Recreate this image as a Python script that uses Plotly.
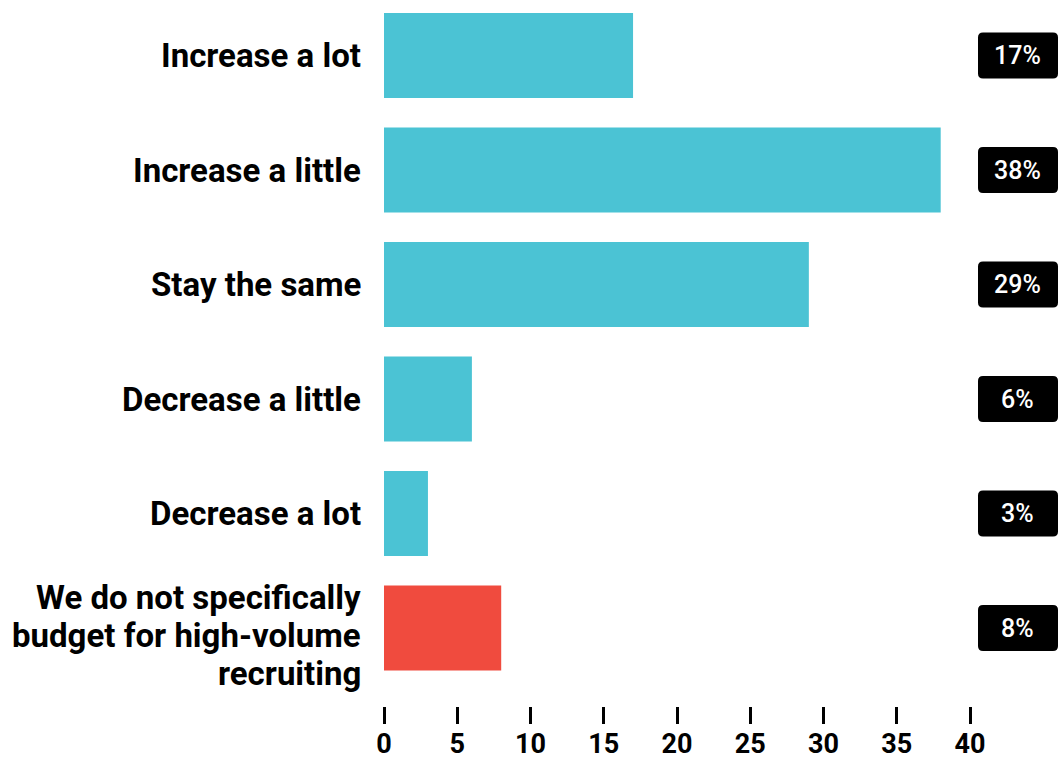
import plotly.graph_objects as go

# Survey answers, top to bottom
categories = [
    "Increase a lot",
    "Increase a little",
    "Stay the same",
    "Decrease a little",
    "Decrease a lot",
    "We do not specifically<br>budget for high-volume<br>recruiting",
]
values = [17, 38, 29, 6, 3, 8]
value_labels = ["17%", "38%", "29%", "6%", "3%", "8%"]
x_ticks = [0, 5, 10, 15, 20, 25, 30, 35, 40]

TEAL = "#4bc3d4"
RED = "#f04b3e"
bar_colors = [TEAL] * 5 + [RED]

W, H = 1064, 759
M_L, M_R, M_T, M_B = 384, 94, 0, 53
plot_w = W - M_L - M_R
plot_h = H - M_T - M_B
row_px = 114.5                      # pixel height of one category row
y_top = -55.5 / row_px              # first row centre sits 55.5px below the top
y_bottom = y_top + plot_h / row_px

LABEL_SIZE = 33
LINE_PX = 38                        # line pitch for wrapped category labels
WRAP_DROP = 7                       # wrapped labels sit slightly below the bar centre

positions = list(range(len(categories)))

fig = go.Figure(
    go.Bar(
        x=values,
        y=positions,
        orientation="h",
        marker=dict(color=bar_colors, line=dict(width=0)),
        width=0.742,
        hoverinfo="skip",
    )
)

shapes, annotations = [], []

# Category labels, right-aligned against the plot area, with tight line pitch
for pos, cat in zip(positions, categories):
    lines = cat.split("<br>")
    n = len(lines)
    drop = WRAP_DROP if n > 1 else 0
    for i, line in enumerate(lines):
        annotations.append(dict(
            x=0, y=pos, xref="paper", yref="y", xanchor="right", yanchor="middle",
            xshift=-21, yshift=-(i - (n - 1) / 2) * LINE_PX - drop,
            text=line, showarrow=False, align="right",
            font=dict(family="Roboto", size=LABEL_SIZE, color="black", weight=700),
        ))

# Rounded black value badges to the right of the plot area
box_x0 = (978 - M_L) / plot_w
box_x1 = (1058 - M_L) / plot_w
rx = 5 / plot_w
half_h = 23 / row_px
ry = 5 / row_px
for pos, lab in zip(positions, value_labels):
    t, b = pos - half_h, pos + half_h
    path = (
        f"M {box_x0 + rx},{t} L {box_x1 - rx},{t} Q {box_x1},{t} {box_x1},{t + ry} "
        f"L {box_x1},{b - ry} Q {box_x1},{b} {box_x1 - rx},{b} "
        f"L {box_x0 + rx},{b} Q {box_x0},{b} {box_x0},{b - ry} "
        f"L {box_x0},{t + ry} Q {box_x0},{t} {box_x0 + rx},{t} Z"
    )
    shapes.append(dict(type="path", xref="paper", yref="y", path=path,
                       fillcolor="black", line=dict(width=0), layer="above"))
    annotations.append(dict(x=(box_x0 + box_x1) / 2, y=pos, xref="paper", yref="y",
                            xanchor="center", yanchor="middle",
                            text=lab, showarrow=False,
                            font=dict(family="Roboto", size=25, color="white", weight=500)))

fig.update_layout(
    width=W, height=H, autosize=False,
    margin=dict(l=M_L, r=M_R, t=M_T, b=M_B, pad=0),
    paper_bgcolor="white", plot_bgcolor="white",
    font=dict(family="Roboto", color="black", weight=700),
    showlegend=False,
    shapes=shapes,
    annotations=annotations,
    xaxis=dict(
        range=[0, 40], tickvals=x_ticks, ticks="outside", ticklen=17, tickwidth=2.5,
        tickcolor="black", showline=False, showgrid=False, zeroline=False,
        tickfont=dict(size=27, family="Roboto", weight=700), ticklabelstandoff=-3,
        fixedrange=True, automargin=False,
    ),
    yaxis=dict(
        range=[y_bottom, y_top], tickvals=positions, showticklabels=False,
        ticks="", showline=False, showgrid=False, zeroline=False,
        fixedrange=True, automargin=False,
    ),
)

fig.write_html("out.html")
